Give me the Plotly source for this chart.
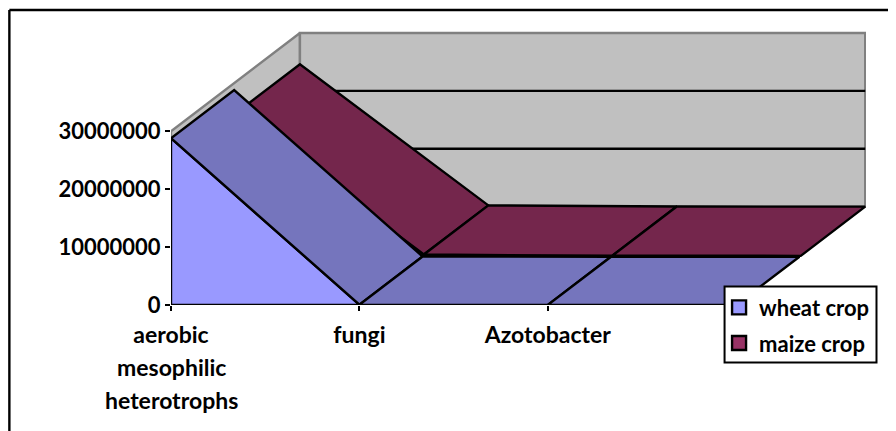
import plotly.graph_objects as go

categories = ["aerobic", "fungi", "Azotobacter", ""]
category_extra_lines = ["mesophilic", "heterotrophs"]
wheat_crop = [28800000, 50000, 20000, 10000]
maize_crop = [24600000, 220000, 20000, 0]
y_ticks = [0, 10000000, 20000000, 30000000]

FONT = "Lato"
FS_Y = 22
FS_X = 23
FS_L = 22
LW = 2.4
WALL = "#C0C0C0"
WALL_LINE = "#808080"
WHEAT_FRONT = "#9999FF"
WHEAT_TOP = "#7575BD"
MAIZE_FRONT = "#993366"
MAIZE_TOP = "#74264C"

# plot-area geometry in window pixels (the page adds an 8px body margin)
W, H = 896, 431
OFF = 8
LEFT, RIGHT, TOP, BOTTOM = 170.7, 866.0, 20.0, 305.5
PX_PER_CAT = 188.5
PX_PER_UNIT = 58.0 / 1e7
# oblique depth vector, in axis units
DX = 129.0 / PX_PER_CAT
DY = 98.5 / PX_PER_UNIT
WHEAT_DEPTH = (0.0, 0.49)
MAIZE_DEPTH = (0.5, 1.0)
N = len(categories)


def proj(i, v, d):
    return i + d * DX, v + d * DY


def poly(points, fill, line="black", width=LW):
    xs = [p[0] for p in points] + [points[0][0]]
    ys = [p[1] for p in points] + [points[0][1]]
    return go.Scatter(x=xs, y=ys, mode="lines", fill="toself", fillcolor=fill,
                      line=dict(color=line, width=width, shape="linear"),
                      showlegend=False, hoverinfo="skip", cliponaxis=False)


def series_traces(values, depth, front, top):
    d0, d1 = depth
    out = []
    pts = [proj(i, values[i], d0) for i in range(N)] + [proj(N - 1, 0, d0), proj(0, 0, d0)]
    out.append(poly(pts, front))
    for i in range(N - 1):
        out.append(poly([proj(i, values[i], d0), proj(i, values[i], d1),
                         proj(i + 1, values[i + 1], d1), proj(i + 1, values[i + 1], d0)], top))
    return out


fig = go.Figure()
ymax = y_ticks[-1]
# walls
fig.add_trace(poly([proj(0, 0, 0), proj(0, ymax, 0), proj(0, ymax, 1), proj(0, 0, 1)], WALL, WALL_LINE))
fig.add_trace(poly([proj(0, 0, 1), proj(0, ymax, 1), proj(N - 1, ymax, 1), proj(N - 1, 0, 1)], WALL, WALL_LINE))
# back-wall gridlines
for v in y_ticks[1:-1]:
    a, b = proj(0, v, 1), proj(N - 1, v, 1)
    fig.add_trace(go.Scatter(x=[a[0], b[0]], y=[a[1], b[1]], mode="lines",
                             line=dict(color="black", width=LW), showlegend=False,
                             hoverinfo="skip", cliponaxis=False))
for t in series_traces(maize_crop, MAIZE_DEPTH, MAIZE_FRONT, MAIZE_TOP):
    fig.add_trace(t)
for t in series_traces(wheat_crop, WHEAT_DEPTH, WHEAT_FRONT, WHEAT_TOP):
    fig.add_trace(t)

# legend entries
for name, col in [("wheat crop", WHEAT_FRONT), ("maize crop", MAIZE_FRONT)]:
    fig.add_trace(go.Scatter(x=[None], y=[None], mode="markers", name=name, legendgroup=name,
                             marker=dict(symbol="square", size=14, color=col,
                                         line=dict(color="black", width=2.4))))

pw = RIGHT - LEFT
ph = BOTTOM - TOP


def px(x):
    return (x - LEFT) / pw


def py(y):
    return (BOTTOM - y) / ph


shapes = [
    dict(type="line", xref="paper", yref="paper", x0=px(9), x1=px(9), y0=py(10), y1=py(440),
         line=dict(color="black", width=2.4)),
    dict(type="line", xref="paper", yref="paper", x0=px(9), x1=px(896), y0=py(10), y1=py(10),
         line=dict(color="black", width=2.4)),
    dict(type="rect", xref="paper", yref="paper", x0=px(724.5), x1=px(876.5), y0=py(287), y1=py(363),
         line=dict(color="black", width=2), fillcolor="white", layer="above"),
]

annotations = [
    dict(x=0, xref="x", y=py(y), yref="paper", text=f"<b>{t}</b>", showarrow=False,
         xanchor="center", yanchor="middle", font=dict(family=FONT, size=FS_X, color="black"))
    for t, y in zip(category_extra_lines, [368, 401])
]

fig.update_layout(
    width=W - OFF, height=H - OFF, paper_bgcolor="white", plot_bgcolor="white",
    margin=dict(l=LEFT - OFF, r=W - RIGHT, t=TOP - OFF, b=H - BOTTOM, pad=0, autoexpand=False),
    shapes=shapes, annotations=annotations,
    font=dict(family=FONT, size=FS_Y, color="black"),
    legend=dict(x=px(719), xanchor="left", y=py(287), yanchor="top",
                bgcolor="rgba(0,0,0,0)", borderwidth=0, tracegroupgap=4,
                font=dict(family=FONT, size=FS_L, color="black", weight="bold"),
                itemclick=False, itemdoubleclick=False),
    xaxis=dict(range=[0, pw / PX_PER_CAT], tickmode="array", tickvals=list(range(N)),
               ticktext=[f"<b>{c}</b>" if c else "" for c in categories],
               tickfont=dict(family=FONT, size=FS_X, color="black"),
               ticks="outside", ticklen=5, tickwidth=2, tickcolor="black",
               showgrid=False, zeroline=False, showline=False, tickangle=0,
               ticklabelstandoff=4, fixedrange=True),
    yaxis=dict(range=[0, ph / PX_PER_UNIT], tickmode="array", tickvals=y_ticks,
               ticktext=[f"<b>{v}</b>" for v in y_ticks],
               tickfont=dict(family=FONT, size=FS_Y, color="black"),
               ticks="outside", ticklen=5, tickwidth=2, tickcolor="black",
               showgrid=False, zeroline=False, showline=False, ticklabelstandoff=0,
               fixedrange=True),
)
fig.write_html("out.html", config=dict(displayModeBar=False))
